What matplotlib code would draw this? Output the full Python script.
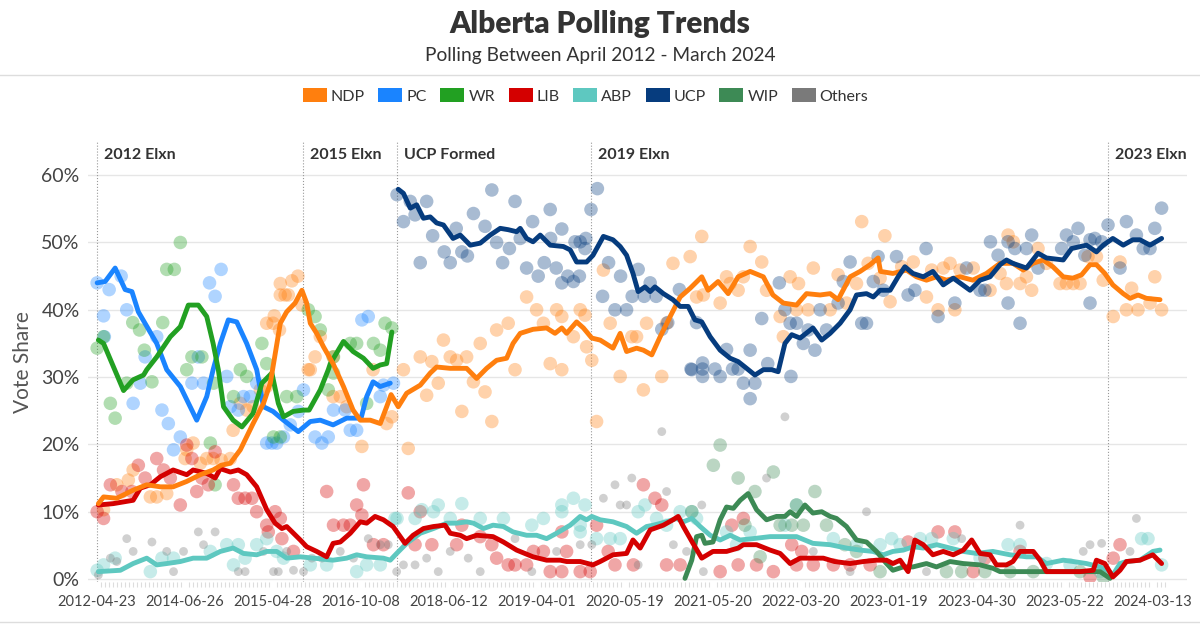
import matplotlib
matplotlib.use('Agg')
import matplotlib.pyplot as plt
from matplotlib.patches import Patch
from matplotlib.lines import Line2D
import numpy as np

plt.rcParams['font.family'] = ['Lato', 'DejaVu Sans']

# x = poll index (categorical axis), y = vote share in %
tick_idx = [0, 22, 44, 66, 88, 110, 132, 154, 176, 198, 220, 242, 264]
tick_labels = ['2012-04-23', '2014-06-26', '2015-04-28', '2016-10-08', '2018-06-12',
               '2019-04-01', '2020-05-19', '2021-05-20', '2022-03-20', '2023-01-19',
               '2023-04-30', '2023-05-22', '2024-03-13']
event_idx = [0, 51.5, 75, 123.5, 252.75]
event_labels = ['2012 Elxn', '2015 Elxn', 'UCP Formed', '2019 Elxn', '2023 Elxn']

parties = ['NDP', 'PC', 'WR', 'LIB', 'ABP', 'UCP', 'WIP', 'Others']
colors = {'NDP': '#FF7F0E', 'PC': '#1A84FF', 'WR': '#22A022', 'LIB': '#D40000',
          'ABP': '#5EC8C0', 'UCP': '#063C7E', 'WIP': '#3D8A55', 'Others': '#7A7A7A'}

# ---- trend lines ----
ndp_tx = [0.3, 1.6, 4.9, 9, 12.4, 15.8, 19, 22.4, 25.8, 29, 31, 33.3, 35.8, 39, 41.6, 43.3, 45.8, 47.4,
          49.5, 51.2, 52.4, 53.3, 54.9, 56.6, 59, 61.6, 64, 65.8, 68.3, 70.8, 72.4, 73.5, 75.3, 77.4, 80.8,
          83.3, 84.9, 88.3, 92.4, 94.9, 97.4, 99.9, 102.4, 104, 105.8, 109, 112.4, 114.5, 116.2, 117.4,
          119.9, 121.6, 123.7, 125.8, 129, 130.8, 132.4, 134.9, 136.6, 138.7, 140.8, 143.3, 145.8, 148.3,
          151.2, 152.8, 155.3, 157.8, 160.3, 163.3, 166.6, 169, 171.6, 174.9, 177.4, 180.8, 183.3, 185.3,
          188.3, 190.8, 193.3, 195.3, 195.9, 199, 202.4, 204.9, 207.4, 209.9, 212.4, 215.8, 219, 222.4,
          225.8, 229, 231.6, 234, 236.6, 239, 241.6, 244, 246.2, 248.3, 249.9, 252, 254, 256.6, 258.3,
          260.3, 262.4, 265.8]
ndp_ty = [11.2, 12.2, 12.0, 13.2, 14.0, 13.7, 13.7, 14.5, 15.5, 16.2, 16.9, 17.2, 19.2, 23.1, 26.1, 29.1,
          38.0, 39.7, 41.0, 42.9, 41.0, 38.0, 36.5, 34.5, 32.0, 28.6, 25.1, 23.6, 23.6, 23.1, 25.6, 27.4,
          25.6, 27.6, 28.8, 30.6, 31.5, 31.3, 31.3, 29.8, 31.3, 32.5, 32.8, 35.0, 36.5, 37.1, 37.3, 36.5,
          37.3, 36.5, 38.2, 37.3, 35.8, 35.5, 34.3, 36.5, 33.8, 34.3, 34.0, 33.3, 36.0, 39.0, 41.9, 43.2,
          44.9, 42.9, 44.2, 42.4, 44.9, 45.7, 44.9, 42.2, 41.0, 40.7, 42.4, 42.2, 42.4, 41.5, 44.9, 45.7,
          46.7, 47.7, 45.7, 45.4, 45.9, 44.9, 44.4, 44.9, 44.4, 44.9, 44.4, 45.4, 46.9, 46.9, 45.9, 46.9,
          47.4, 46.4, 44.9, 44.7, 45.2, 46.7, 46.7, 45.4, 43.7, 42.4, 41.7, 42.2, 41.7, 41.5]

pc_tx = [0, 2, 4.5, 7, 8.7, 10.3, 14.9, 17.4, 20.8, 24.9, 27.4, 29, 30.8, 32.8, 34.9, 37.4, 39.9, 41.6,
         44, 46.6, 50.3, 53.3, 55.8, 59, 62.4, 66, 67.4, 69, 70.8, 73.3]
pc_ty = [44.0, 44.2, 46.2, 43.0, 42.7, 39.7, 35.0, 31.1, 28.6, 23.6, 27.1, 31.1, 35.0, 38.5, 38.2, 35.0,
         31.1, 25.6, 24.9, 23.6, 21.9, 23.4, 23.6, 22.9, 23.9, 23.9, 27.1, 29.3, 28.6, 29.1]

wr_tx = [0.3, 1.6, 6.6, 9, 11.6, 12.4, 14.9, 18.3, 20.8, 22.8, 25.3, 27.4, 29, 30.3, 31.6, 34, 36.2,
         39, 41.2, 43.7, 45.3, 46.6, 49, 51.6, 53, 55.8, 57.8, 58.3, 61.6, 64, 66.6, 69, 70.8, 72.4, 73.7]
wr_ty = [35.5, 35.0, 28.0, 29.6, 30.3, 31.1, 33.0, 36.0, 37.5, 40.7, 40.7, 39.0, 35.0, 31.1, 25.6, 23.6,
         22.6, 24.6, 29.1, 30.6, 26.1, 24.1, 24.9, 25.1, 25.1, 28.1, 31.1, 32.0, 35.3, 33.8, 32.8, 31.3,
         31.8, 32.0, 36.7]

lib_tx = [0.3, 4, 9, 10.8, 13.3, 15.8, 19, 22.4, 24, 27.4, 29.5, 30.8, 33.3, 35.3, 37.4, 39.9, 42.4, 44.5,
          46.2, 47.4, 49.1, 50.8, 52.4, 54.9, 57.4, 59, 60.8, 63.3, 65.8, 67.4, 69.5, 71.6, 74, 77, 79,
          81.6, 84.1, 87, 88.3, 90.8, 92.4, 94.9, 99, 101.6, 104.9, 109, 112.4, 115.8, 117.4, 120.8, 124,
          125.8, 129, 132.4, 134, 135.8, 138.3, 141.6, 144, 145.3, 146.6, 149, 151.2, 154, 157.4, 160.3,
          161.6, 164.9, 168.3, 170.8, 173.3, 175.8, 179, 181.6, 184.4, 188.3, 191.6, 194.9, 197.4, 199,
          200.8, 202.8, 204.5, 206.6, 209, 211.6, 214.1, 216.6, 218.7, 220.8, 223.3, 224.9, 227.4, 229,
          230.8, 234.1, 235.8, 237.4, 241.6, 245.8, 249.1, 249.9, 252, 254, 255.8, 257.4, 260.8, 264, 266.2]
lib_ty = [11.0, 11.2, 11.7, 13.5, 14.0, 15.2, 16.2, 15.5, 16.2, 15.7, 15.0, 16.4, 15.9, 16.2, 15.5, 13.7,
          10.3, 8.3, 7.5, 7.8, 6.8, 5.8, 4.8, 4.1, 3.3, 5.3, 5.5, 6.8, 8.5, 8.3, 9.3, 8.8, 7.8, 5.3, 6.5,
          7.5, 7.8, 8.0, 6.8, 6.5, 6.0, 6.5, 6.3, 5.5, 4.3, 3.3, 2.8, 2.8, 2.6, 2.6, 2.1, 2.6, 3.6, 3.8,
          5.8, 4.6, 7.3, 8.0, 8.8, 9.3, 7.8, 5.3, 3.1, 4.1, 4.1, 4.6, 5.1, 5.1, 4.3, 3.8, 2.3, 3.1, 3.1,
          3.1, 2.6, 2.3, 2.6, 2.8, 2.8, 2.3, 2.8, 1.1, 5.8, 5.1, 3.6, 4.1, 3.6, 4.3, 5.8, 3.8, 3.6, 2.1,
          2.1, 2.6, 4.1, 4.1, 2.8, 1.1, 1.1, 1.1, 1.3, 2.8, 2.3, 0.3, 1.3, 2.6, 2.8, 3.6, 2.3]

abp_tx = [0.3, 5.8, 9, 12.4, 14.9, 17.4, 20.8, 24, 27.4, 30.8, 34, 36.6, 39.9, 42.4, 44.9, 47.4, 50.8,
          54.1, 59, 62.4, 64.9, 67.4, 71.6, 73.3, 74.9, 77.4, 80.8, 84.1, 87.4, 89.9, 92.4, 94.1, 96.6, 99,
          101.6, 104, 107.4, 109.9, 112.4, 114.9, 118.3, 120.8, 122.4, 123.7, 125.8, 129, 132.4, 134.9,
          137.4, 139.1, 142.4, 144.9, 146.6, 148.7, 150.8, 153.3, 155.8, 158.3, 160.8, 164, 168.3, 172.4,
          174.9, 179, 183.3, 187.4, 190.8, 194, 196.6, 199, 201.6, 204.1, 206.6, 210, 213.3, 216.6, 219.9,
          224, 228.3, 232.4, 234.9, 237.4, 241.6, 244.1, 247.4, 250.8, 252.8, 254, 255.8, 257.4, 260.8,
          264, 265.8]
abp_ty = [1.1, 1.3, 2.3, 3.1, 2.1, 2.3, 2.6, 3.1, 3.1, 4.1, 4.6, 3.8, 3.6, 4.1, 4.1, 3.1, 3.3, 3.1, 2.8,
          3.1, 3.6, 3.3, 3.1, 2.8, 3.8, 5.3, 6.8, 7.5, 8.3, 8.3, 8.5, 8.3, 7.5, 8.0, 7.8, 7.0, 6.5, 6.5,
          6.0, 6.8, 8.0, 9.3, 8.8, 9.3, 8.8, 8.5, 7.8, 6.8, 7.8, 8.0, 8.5, 9.0, 8.5, 9.0, 7.8, 6.5, 5.8,
          6.5, 5.8, 6.0, 6.3, 6.3, 6.3, 5.3, 5.1, 4.6, 4.3, 4.1, 3.6, 4.1, 4.3, 4.8, 4.6, 5.1, 4.6, 4.1,
          3.8, 4.1, 3.6, 3.3, 3.3, 2.3, 2.8, 2.6, 2.3, 1.8, 1.3, 0.6, 2.3, 2.6, 2.8, 4.1, 4.3]

ucp_tx = [75.3, 76.6, 78.3, 79.9, 81.6, 83.3, 84.9, 86.6, 89, 90.8, 93.3, 95.8, 98.3, 100.8, 102.8, 104.9,
          105.8, 107.4, 109, 110.8, 113.3, 116.6, 118.3, 119.9, 122.4, 124, 126.6, 129, 130.8, 132.4, 134,
          135.3, 137, 138.3, 139.5, 141.6, 144, 145.8, 147.8, 149.5, 151.2, 153.3, 155.8, 158.3, 160.3,
          162, 164.5, 166.6, 168.7, 170.3, 172, 173.7, 175.8, 179, 181.2, 183.3, 185.8, 188.3, 189.9,
          192.4, 194.1, 195.8, 198.3, 200.3, 202, 204, 206.6, 209, 211.6, 214.1, 218.3, 220.8, 223.3,
          225.8, 227.4, 229, 232.4, 235.3, 237.4, 241.6, 243.7, 247.4, 249.9, 251.6, 254, 256.6, 259,
          260.8, 263.3, 266.2]
ucp_ty = [57.9, 57.3, 55.1, 55.6, 53.6, 53.8, 52.9, 52.6, 50.6, 51.1, 49.6, 49.9, 51.1, 52.1, 51.9, 51.6,
          52.1, 50.6, 50.1, 51.1, 49.6, 49.4, 48.9, 47.1, 47.1, 48.1, 50.9, 50.4, 49.4, 48.1, 45.4, 42.7,
          43.4, 42.7, 43.4, 42.4, 41.5, 40.5, 40.5, 38.5, 38.2, 36.0, 34.0, 32.8, 32.3, 31.5, 30.3, 31.1,
          31.1, 30.8, 35.0, 36.3, 35.8, 37.3, 35.5, 36.5, 38.0, 40.0, 42.2, 42.4, 41.9, 42.9, 42.9, 44.9,
          46.4, 45.4, 44.9, 45.7, 43.7, 44.7, 42.9, 44.4, 44.9, 46.7, 47.4, 46.9, 46.2, 48.4, 47.7, 47.4,
          49.1, 49.6, 48.6, 49.6, 50.6, 49.6, 50.4, 50.4, 49.6, 50.6]

wip_tx = [147, 148.7, 149.9, 151.2, 152, 154, 155.8, 157.4, 159.1, 160.8, 162.8, 164.9, 167.4, 169.9, 172,
          173.3, 174.9, 177, 179, 181.2, 183.3, 184.9, 187.4, 189.9, 192.4, 194.9, 197.4, 199, 201.6, 204,
          207.4, 209.9, 213.3, 216.6, 220.8, 224, 225.8, 230.8, 237.4, 245.8, 250.8, 253.3]
wip_ty = [0.1, 2.8, 6.3, 6.5, 5.3, 5.5, 8.8, 10.7, 10.5, 11.7, 12.7, 10.3, 8.8, 9.3, 9.3, 10.0, 9.3, 11.0,
          9.8, 10.0, 9.3, 9.0, 7.8, 5.8, 5.5, 4.1, 2.3, 1.3, 1.8, 1.8, 2.3, 1.8, 2.6, 2.3, 2.1, 1.6, 1.1,
          1.1, 1.1, 1.1, 1.1, 0.1]

# ---- individual polls (dots) ----
ndp_px = [45.8, 47.8, 48.7, 50.2, 45.8, 47, 42.4, 44, 44.3, 45.6, 51.2, 55.8, 54.5, 52.8, 59, 69, 27.4, 29,
          31, 33.3, 22.4, 24, 25.8, 22, 9, 7.8, 4.9, 1.6, 13.3, 14.9, 17.4, 34, 35.8, 37.4, 39, 40.8, 42.4,
          53.3, 59, 60.8, 62.4, 66.2, 72.4, 73.7, 77.8, 82.4, 85.3, 91.2, 94.1, 97, 98.7, 104.5, 116.2,
          124.9, 130.8, 136.6, 141.2, 76.6, 80.8, 83.7, 86.6, 88.3, 89.9, 92.4, 95.8, 99.9, 102.8, 107.4,
          109.9, 111.6, 113.3, 114.9, 116.2, 119.1, 120.8, 122, 122.4, 123.7, 126.6, 128.3, 133.7, 134.9,
          137.4, 144, 142.4, 148.3, 151.2, 149.9, 151.6, 155.8, 157.4, 158.3, 160.3, 161.6, 163.3, 166.2,
          167.4, 170.8, 173.3, 175.4, 179.1, 171.6, 174.9, 177.8, 183.3, 185.3, 187.4, 189.9, 191.2, 192.8,
          195.8, 197, 198.3, 201.2, 204.1, 207.4, 208.7, 210.3, 211.6, 213.3, 214.5, 215.8, 219.1, 223.3,
          225.8, 227.4, 227.8, 229.1, 230.8, 232.4, 233.7, 235.3, 237.4, 240.8, 242.4, 244.1, 245.8, 247.8,
          249.9, 251.6, 254.1, 255.8, 257.4, 258.7, 260.3, 263.3, 264.5, 266.2]
ndp_py = [43.9, 42.2, 44.3, 45.0, 42.2, 42.2, 38.0, 38.0, 39.1, 37.0, 40.7, 36.0, 33.0, 31.1, 33.0, 31.1,
          17.9, 17.9, 17.7, 17.9, 19.2, 20.2, 17.2, 17.9, 16.2, 14.7, 14.0, 10.3, 12.2, 12.2, 12.7, 22.1,
          26.1, 25.1, 25.6, 28.1, 28.6, 31.1, 27.1, 27.1, 25.6, 19.7, 23.1, 24.1, 19.4, 27.3, 29.1, 24.9,
          29.3, 27.8, 23.4, 31.1, 31.1, 23.4, 30.1, 28.1, 30.1, 31.1, 33.0, 32.3, 35.5, 33.0, 32.5, 33.0,
          35.0, 37.0, 38.0, 41.9, 40.0, 38.0, 32.0, 40.0, 39.0, 36.0, 40.0, 39.2, 34.5, 32.5, 45.9, 38.0,
          36.0, 36.0, 38.0, 46.9, 38.0, 47.9, 50.9, 41.9, 42.2, 41.0, 44.9, 43.9, 42.9, 44.9, 49.4, 47.1,
          42.9, 39.0, 44.9, 43.9, 46.2, 36.0, 40.0, 40.0, 40.0, 45.2, 41.0, 43.9, 53.1, 46.9, 44.7, 51.0,
          41.2, 46.4, 47.1, 41.9, 45.9, 40.0, 46.2, 46.9, 40.0, 45.9, 46.2, 42.9, 45.4, 43.9, 51.1, 50.1,
          43.9, 44.9, 42.9, 49.1, 46.9, 43.9, 43.9, 43.9, 43.9, 47.9, 47.9, 44.4, 39.0, 47.1, 40.0, 43.2,
          40.0, 41.0, 44.9, 40.0]

ucp_px = [75, 76.6, 78.3, 79.5, 80.8, 82.4, 83.9, 86.8, 88.3, 89.8, 91.2, 92.6, 94.1, 97, 98.7, 99.9,
          101.4, 103.1, 104.5, 105.8, 107.4, 108.9, 110.3, 111.8, 113.3, 113.4, 114.8, 116.2, 116.2, 117.7,
          119.1, 119.5, 120.6, 120.8, 122, 122.2, 123.5, 125.1, 126.4, 127.9, 129.5, 130.9, 132.4, 133.8,
          135.3, 136.8, 138.3, 139.8, 141.2, 142.7, 145.6, 148.5, 149.9, 151.4, 151.4, 154.5, 157.4,
          158.9, 160.3, 163.3, 166.2, 167.7, 170.6, 172, 173.3, 148.7, 151.4, 155.8, 161.6, 164.5, 163.3,
          173.5, 174.9, 176.6, 177.8, 179.5, 180.8, 182.4, 185.3, 186.6, 188.3, 191.2, 192.4, 194.1, 195.3,
          196.6, 199.9, 202.8, 204.5, 207.3, 210.3, 214.5, 217.4, 220.8, 222, 223.4, 225.3, 227.8, 227.8,
          229.5, 230.8, 232.4, 233.7, 235.3, 241.2, 242.4, 244.1, 245.3, 247, 248.3, 248.3, 249.5, 251.2,
          252.8, 255.8, 257.4, 259.9, 261.6, 263.3, 264.5, 266.2]
ucp_py = [57.1, 53.1, 56.1, 54.1, 47.0, 56.1, 51.0, 48.6, 47.0, 52.1, 48.6, 48.0, 54.3, 52.4, 57.8, 50.0,
          47.0, 49.1, 56.1, 50.6, 46.2, 53.1, 45.0, 47.0, 54.9, 50.6, 46.2, 52.0, 44.0, 45.0, 44.2, 50.1,
          45.0, 50.1, 49.1, 50.6, 54.9, 58.0, 42.0, 47.0, 40.0, 45.0, 40.0, 42.0, 46.0, 42.0, 44.0, 42.0,
          37.1, 38.1, 43.0, 31.2, 38.1, 32.1, 31.2, 31.2, 34.1, 31.2, 31.2, 34.0, 38.7, 32.0, 44.0, 40.0,
          38.0, 31.1, 30.1, 30.1, 29.1, 29.1, 26.8, 30.1, 38.0, 35.0, 37.0, 34.0, 40.0, 37.0, 41.0, 44.2,
          47.1, 38.0, 38.0, 44.2, 47.9, 42.9, 47.9, 42.2, 42.9, 49.1, 39.0, 41.0, 46.2, 42.9, 42.9, 50.1,
          48.1, 41.0, 50.1, 49.1, 38.0, 49.1, 51.1, 46.2, 49.1, 51.1, 50.1, 52.1, 48.1, 50.4, 41.0, 50.6,
          50.1, 52.6, 46.2, 53.1, 51.1, 49.1, 49.1, 52.1, 55.1]

pc_px = [0, 1.6, 1.8, 3, 6, 7.4, 12, 14.9, 25.3, 28.1, 29.5, 31, 32.4, 66.2, 67.8, 9, 10.8, 16.2, 17.8,
         19.1, 20.8, 23.7, 26.6, 33.3, 35.3, 36.6, 38.3, 39.9, 42.4, 43.7, 44.9, 46.6, 48.3, 50.3, 51.6,
         54.5, 56.2, 57.8, 59.1, 62, 63.3, 64.9, 70.8, 71.6, 74.1]
pc_py = [44.0, 39.1, 36.0, 43.0, 45.0, 40.0, 33.0, 36.0, 33.0, 44.0, 42.0, 46.0, 30.1, 38.5, 39.0, 26.1,
         29.1, 25.1, 23.1, 19.2, 21.1, 29.1, 29.1, 25.6, 25.1, 27.1, 27.1, 29.1, 20.2, 20.2, 20.2, 21.1,
         22.9, 24.9, 28.1, 21.1, 20.2, 21.1, 25.1, 25.1, 22.1, 22.1, 27.1, 28.8, 29.1]

wr_px = [0, 1.6, 8.9, 10.6, 11.8, 16.4, 17.4, 19.3, 20.8, 22.4, 23.7, 26.2, 35.8, 41.2, 42.4, 52.8, 54.5,
         55.8, 59.1, 63.3, 64.9, 69.1, 70.8, 72, 73.7, 3.3, 4.5, 7.4, 13.7, 28.3, 29.1, 29.5, 34.1, 37.4,
         44.1, 45.8, 47.4, 49.9, 57.8, 59.1, 67.4]
wr_py = [34.3, 36.0, 38.1, 37.0, 34.0, 38.1, 46.0, 46.0, 50.0, 31.1, 33.0, 33.0, 31.1, 35.0, 32.0, 40.0,
         39.0, 37.0, 33.0, 35.0, 35.0, 35.0, 34.0, 38.0, 37.3, 26.1, 23.9, 29.1, 29.3, 20.2, 29.1, 14.0,
         27.1, 30.1, 21.1, 21.1, 27.1, 27.1, 28.1, 30.6, 26.1]

lib_px = [0, 1.6, 3.3, 6.2, 8.7, 10.3, 12, 14.9, 16.6, 18.3, 20.8, 22.4, 23.7, 24.9, 26.2, 27.8, 29.5, 34.1,
          35.3, 37, 38.7, 39.9, 42.4, 42.8, 44.5, 45.8, 46.2, 49.1, 57.4, 59.1, 61.6, 63.3, 64.9, 66.6, 66.2,
          69.1, 71.6, 77.8, 80.8, 79.5, 83.7, 89.9, 91.2, 95.8, 98.7, 99.9, 102.8, 104.5, 107.4, 109.1,
          111.6, 113.3, 116.2, 116.2, 117.4, 120.8, 123.3, 124.9, 127.8, 129.5, 134.1, 136.6, 139.5, 141.2,
          142.4, 145.8, 155.8, 158.7, 161.6, 160.3, 164.9, 169.1, 173.7, 176.2, 174.9, 179.1, 184.1, 188.3,
          193.3, 202.8, 210.3, 214.5, 219.1, 222, 230.8, 248.3, 254.1, 255.8]
lib_py = [10.0, 9.0, 14.0, 13.0, 13.0, 16.9, 15.0, 17.9, 16.2, 15.0, 11.0, 19.9, 17.9, 13.0, 15.0, 14.0,
          18.9, 14.0, 12.0, 12.0, 12.0, 10.0, 8.0, 7.0, 10.0, 9.0, 6.0, 4.1, 13.0, 8.0, 8.0, 8.0, 11.0, 14.0,
          9.5, 5.1, 5.1, 12.8, 10.0, 5.1, 5.1, 5.1, 8.0, 6.3, 5.1, 3.1, 2.1, 2.1, 2.1, 4.1, 4.1, 1.1, 1.1,
          7.0, 4.1, 1.1, 1.1, 8.0, 4.1, 2.1, 2.1, 14.0, 12.0, 11.0, 2.1, 2.1, 1.1, 8.0, 9.0, 2.1, 2.1, 1.1,
          5.1, 4.1, 2.1, 2.1, 2.1, 2.1, 2.1, 5.5, 7.0, 7.0, 1.1, 3.1, 4.1, 0.3, 3.1, 5.1]

abp_px = [0, 1.6, 4.5, 13.3, 16.2, 19.1, 28.3, 32.4, 34.1, 35.3, 37, 39.9, 42.4, 44.9, 46.6, 53.3, 57.4,
          64.9, 67.4, 70.8, 74.5, 75, 79.5, 81.2, 84.1, 85.3, 88.3, 91.2, 95.8, 101.6, 108.7, 111.6, 116.2,
          116.2, 119.1, 120.8, 122, 120.8, 124.9, 128.3, 130.8, 135.3, 137, 139.9, 142.4, 145.8, 148.7,
          149.9, 157.4, 159.9, 163.3, 174.9, 172, 184.1, 189.9, 195.8, 198.7, 200.8, 205.8, 208.7, 214.1,
          220.8, 227.8, 230.8, 237.4, 243.3, 250.8, 261.2, 262.8, 266.2]
abp_py = [1.3, 2.1, 3.1, 1.1, 3.1, 3.1, 4.1, 5.1, 2.1, 5.1, 3.1, 5.1, 6.0, 4.1, 3.1, 2.1, 2.1, 1.1, 2.1,
          2.1, 9.0, 9.0, 9.0, 10.3, 10.0, 11.0, 9.0, 11.2, 9.0, 9.0, 8.0, 9.0, 11.0, 10.0, 12.0, 8.0, 11.0,
          7.0, 6.0, 6.0, 6.0, 10.0, 11.0, 9.0, 8.0, 10.0, 10.0, 9.0, 7.0, 5.1, 7.0, 11.0, 8.0, 6.0, 5.1, 5.1,
          6.0, 5.1, 6.0, 6.0, 6.0, 3.1, 5.1, 5.1, 2.3, 2.1, 1.1, 6.0, 6.0, 2.1]

wip_px = [148.7, 154.1, 155.8, 160.3, 164.5, 169.1, 165.8, 162, 174.9, 173.7, 170.8, 176.6, 179.5, 182.4,
          187, 189.9, 195.8, 212.4, 216.2, 222, 228.3, 234.1, 245.8, 251.6]
wip_py = [10.0, 16.9, 19.9, 15.0, 13.0, 15.9, 3.3, 8.0, 11.0, 8.0, 8.0, 8.0, 13.0, 8.0, 5.1, 4.1, 1.1, 1.1,
          1.1, 1.1, 1.1, 1.1, 1.1, 0.3]

oth_px = [0.3, 3.3, 4.9, 7.4, 9, 13.7, 17.4, 19.1, 21.6, 25.3, 26.6, 29.5, 35.3, 37, 41.6, 44.1, 45.3,
          47.4, 49.1, 51.6, 53.7, 56.2, 60.8, 64.1, 67.8, 70.8, 72.8, 74.9, 76.6, 79.5, 82.4, 85.3, 88.3,
          92.8, 95.8, 104.5, 108.7, 114.9, 120.8, 123.7, 126.6, 129.5, 130.8, 132.4, 133.7, 135.3, 141.2,
          142.4, 144.1, 147.4, 151.2, 151.6, 167.4, 172, 179.1, 188.3, 192.4, 207.4, 216.2, 230.8, 246.6,
          248.3, 251.2, 258.3, 259.9]
oth_py = [0.6, 3.1, 2.6, 6.0, 4.1, 5.5, 4.1, 1.1, 4.1, 7.0, 5.1, 7.0, 1.1, 1.1, 4.1, 1.1, 1.1, 4.1, 1.3,
          1.1, 3.1, 3.1, 4.1, 3.1, 6.0, 5.1, 5.1, 1.1, 2.1, 2.1, 3.1, 1.1, 4.1, 3.1, 1.1, 6.0, 1.1, 4.1,
          5.1, 5.1, 12.0, 14.0, 11.0, 11.0, 15.0, 2.1, 21.9, 13.0, 5.1, 4.1, 11.0, 1.1, 15.0, 24.1, 4.1,
          1.1, 10.0, 1.1, 6.0, 8.0, 4.1, 5.1, 5.3, 4.1, 9.0]

trends = {'NDP': (ndp_tx, ndp_ty), 'PC': (pc_tx, pc_ty), 'WR': (wr_tx, wr_ty), 'LIB': (lib_tx, lib_ty),
          'ABP': (abp_tx, abp_ty), 'UCP': (ucp_tx, ucp_ty), 'WIP': (wip_tx, wip_ty)}
polls = {'NDP': (ndp_px, ndp_py), 'PC': (pc_px, pc_py), 'WR': (wr_px, wr_py), 'LIB': (lib_px, lib_py),
         'ABP': (abp_px, abp_py), 'UCP': (ucp_px, ucp_py), 'WIP': (wip_px, wip_py),
         'Others': (oth_px, oth_py)}

fig = plt.figure(figsize=(12, 6.34), dpi=100)
ax = fig.add_axes([0.0733, 0.0814, 0.9157, 0.6954])

for p in parties:
    px, py = polls[p]
    s = 40 if p == 'Others' else 95
    ax.scatter(px, py, s=s, color=colors[p], alpha=0.35, edgecolors='none', zorder=2)

for p in ['ABP', 'WIP', 'LIB', 'PC', 'WR', 'NDP', 'UCP']:
    tx, ty = trends[p]
    ax.plot(tx, ty, color=colors[p], lw=3.5, solid_capstyle='round', solid_joinstyle='round', zorder=3)

for xi, lab in zip(event_idx, event_labels):
    ax.axvline(xi, color='#999999', lw=0.8, ls=':', zorder=1)
    ax.text(xi + 1.8, 63.0, lab, fontsize=11.5, fontweight='bold', color='#333333',
            ha='left', va='center')

ax.set_xlim(-2.3, 272.5)
ax.set_ylim(-0.5, 65)
ax.set_yticks([0, 10, 20, 30, 40, 50, 60])
ax.set_yticklabels(['0%', '10%', '20%', '30%', '40%', '50%', '60%'], fontsize=14, color='#444444')
ax.set_xticks(tick_idx)
ax.set_xticklabels(tick_labels, fontsize=10.5, color='#444444')
ax.set_xticks(np.arange(0, 268), minor=True)
ax.tick_params(axis='x', which='major', length=0, pad=9)
ax.tick_params(axis='x', which='minor', length=3.5, color='#dddddd', width=0.8)
ax.tick_params(axis='y', length=0, pad=6)
ax.grid(axis='y', color='#e6e6e6', lw=1)
ax.set_axisbelow(True)
for sp in ax.spines.values():
    sp.set_visible(False)
ax.set_ylabel('Vote Share', fontsize=15, color='#555555', labelpad=6)

fig.text(0.5, 0.962, 'Alberta Polling Trends', ha='center', va='center', fontsize=21.5,
         fontweight='heavy', color='#333333')
fig.text(0.5, 0.912, 'Polling Between April 2012 - March 2024', ha='center', va='center',
         fontsize=13.8, color='#333333')
fig.add_artist(Line2D([0, 1], [1 - 75 / 634] * 2, transform=fig.transFigure, color='#dddddd', lw=1))
fig.add_artist(Line2D([0, 1], [1 - 622 / 634] * 2, transform=fig.transFigure, color='#dddddd', lw=1))

handles = [Patch(facecolor=colors[p], edgecolor='none', label=p) for p in parties]
fig.legend(handles=handles, loc='center', bbox_to_anchor=(0.488, 1 - 96 / 634), ncol=8, frameon=False,
           fontsize=11.5, handlelength=1.5, handleheight=0.9, handletextpad=0.25, columnspacing=0.85,
           labelcolor='#333333')

fig.savefig('out.png', dpi=100)
